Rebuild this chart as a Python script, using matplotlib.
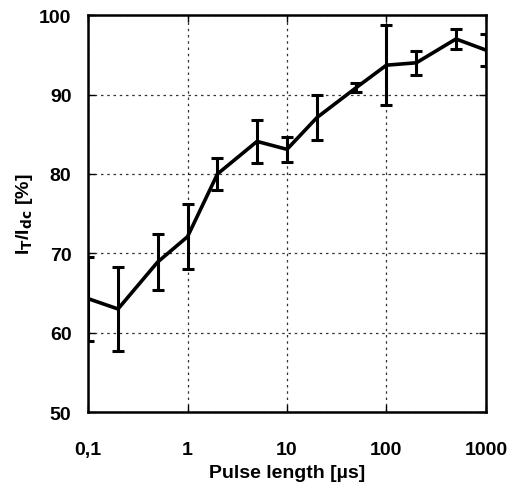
import numpy as np
import matplotlib
matplotlib.use("Agg")
import matplotlib.pyplot as plt
from matplotlib.ticker import FixedLocator, NullLocator

pulse_us = [0.1, 0.2, 0.5, 1, 2, 5, 10, 20, 50, 100, 200, 500, 1000]
ratio_pct = [64.3, 63.0, 68.9, 72.1, 80.0, 84.1, 83.1, 87.1, 90.9, 93.7, 94.0, 97.0, 95.6]
err_pct = [5.3, 5.3, 3.5, 4.1, 2.0, 2.7, 1.6, 2.8, 0.6, 5.0, 1.5, 1.3, 2.0]

xticks = [0.1, 1, 10, 100, 1000]
xticklabels = ["0,1", "1", "10", "100", "1000"]
yticks = [50, 60, 70, 80, 90, 100]

plt.rcParams['font.family'] = ['Liberation Sans', 'DejaVu Sans']
plt.rcParams['font.weight'] = 'bold'

fig = plt.figure(figsize=(5.12, 4.89), dpi=100)
ax = fig.add_axes([0.172, 0.155, 0.777, 0.812])

ax.errorbar(pulse_us, ratio_pct, yerr=err_pct, color='black', lw=2.6,
            elinewidth=2.2, capsize=4, capthick=2.2, clip_on=True)

ax.set_xscale('log')
ax.set_xlim(0.1, 1000)
ax.set_ylim(50, 100)
ax.xaxis.set_major_locator(FixedLocator(xticks))
ax.xaxis.set_minor_locator(NullLocator())
ax.set_xticklabels(xticklabels)
ax.set_yticks(yticks)

ax.grid(True, color='black', linestyle=(0, (2, 3)), linewidth=0.9, alpha=0.8)
ax.tick_params(direction='in', top=True, right=True, length=5, width=1,
               labelsize=14)
ax.tick_params(axis='x', pad=21)
ax.tick_params(axis='y', pad=12)
for lbl in ax.get_xticklabels() + ax.get_yticklabels():
    lbl.set_fontweight('bold')
for s in ax.spines.values():
    s.set_linewidth(1.8)

ax.set_xlabel('Pulse length [µs]', fontsize=14, fontweight='bold', labelpad=4)
ax.set_ylabel(r'I$_\mathbf{T}$/I$_\mathbf{dc}$ [%]', fontsize=14, fontweight='bold', labelpad=3)

fig.savefig('out.png', dpi=100)
